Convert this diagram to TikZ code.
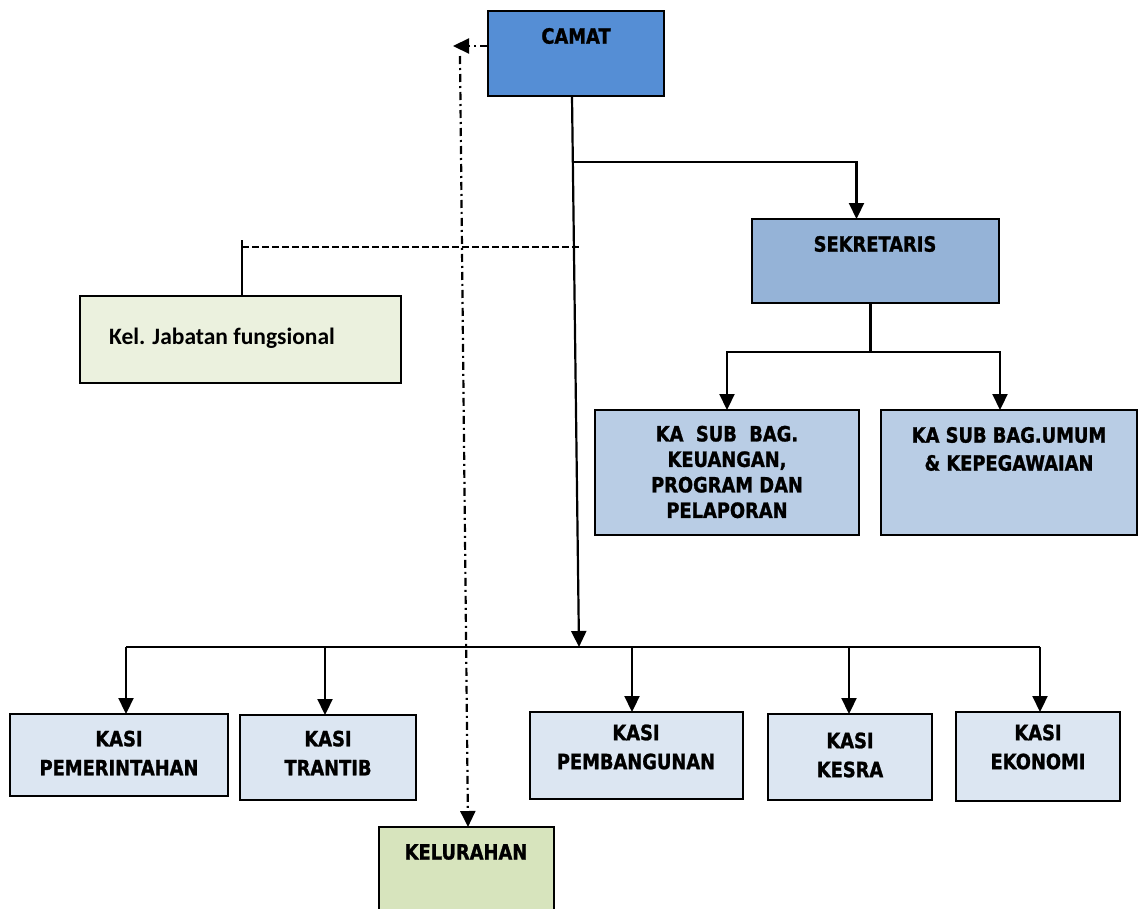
\documentclass[tikz,border=0pt]{standalone}
\usepackage{fontspec}
\setmainfont{DejaVu Sans}[FakeStretch=0.85, BoldFeatures={FakeBold=1.2}]
\newfontfamily\calibri{Carlito}
\usetikzlibrary{arrows.meta,positioning,calc}
\tikzset{>={Triangle[length=16pt,width=15pt]}}

\definecolor{camatbiru}{HTML}{558ED5}
\definecolor{sekbiru}{HTML}{95B3D7}
\definecolor{subbiru}{HTML}{B9CDE5}
\definecolor{kasibiru}{HTML}{DCE6F2}
\definecolor{jabhijau}{HTML}{EBF1DE}
\definecolor{kelhijau}{HTML}{D7E4BD}

\begin{document}
\begin{tikzpicture}[x=1pt,y=-1pt,
    kotak/.style={draw, line width=2.2pt, anchor=north west, inner sep=0pt, outer sep=0pt},
    teks/.style={font=\bfseries\fontsize{21}{29}\selectfont, align=center},
    garis/.style={line width=2.2pt},
    panah/.style={garis,->},
    titik/.style={garis, dash pattern=on 8pt off 4pt on 2pt off 4pt},
    putus/.style={garis, dash pattern=on 7pt off 3pt}]
    \useasboundingbox (0,0) rectangle (1138,908);
    % kotak-kotak
    \node[kotak, fill=camatbiru, minimum width=176pt, minimum height=85pt] (camat) at (488,11) {};
    \node[kotak, fill=sekbiru, minimum width=247pt, minimum height=84pt] (sekretaris) at (752,219) {};
    \node[kotak, fill=subbiru, minimum width=264pt, minimum height=125pt] (keuangan) at (595,410) {};
    \node[kotak, fill=subbiru, minimum width=256pt, minimum height=125pt] (umum) at (881,410) {};
    \node[kotak, fill=jabhijau, minimum width=321pt, minimum height=87pt] (jabatan) at (80,296) {};
    \node[kotak, fill=kasibiru, minimum width=218pt, minimum height=82pt] (pemerintahan) at (10,714) {};
    \node[kotak, fill=kasibiru, minimum width=176pt, minimum height=85pt] (trantib) at (240,715) {};
    \node[kotak, fill=kasibiru, minimum width=213pt, minimum height=87pt] (pembangunan) at (530,712) {};
    \node[kotak, fill=kasibiru, minimum width=164pt, minimum height=86pt] (kesra) at (768,714) {};
    \node[kotak, fill=kasibiru, minimum width=164pt, minimum height=89pt] (ekonomi) at (956,712) {};
    \node[kotak, fill=kelhijau, minimum width=175pt, minimum height=95pt] (kelurahan) at (379,827) {};
    % teks
    \node[teks] (tcamat) at (576,36) {CAMAT};
    \node[teks] (tsekretaris) at (875,244) {SEKRETARIS};
    \node[teks, font=\bfseries\fontsize{21}{25.5}\selectfont] (tkeuangan) at (727,472) {KA\ \ SUB\ \ BAG.\\KEUANGAN,\\PROGRAM DAN\\PELAPORAN};
    \node[teks, font=\bfseries\fontsize{21}{28}\selectfont] (tumum) at (1009,449) {KA SUB BAG.UMUM\\\& KEPEGAWAIAN};
    \node[font=\calibri\bfseries\fontsize{23.5}{26}\selectfont] (tjabatan) at (222,338) {Kel. Jabatan fungsional};
    \node[teks] (tpemerintahan) at (119,753) {KASI\\PEMERINTAHAN};
    \node[teks] (ttrantib) at (328,753) {KASI\\TRANTIB};
    \node[teks] (tpembangunan) at (636,747) {KASI\\PEMBANGUNAN};
    \node[teks] (tkesra) at (850,755) {KASI\\KESRA};
    \node[teks] (tekonomi) at (1038,747) {KASI\\EKONOMI};
    \node[teks] (tkelurahan) at (466,852) {KELURAHAN};
    % garis komando
    \coordinate (tengah) at (579,647);
    \draw[panah] ([xshift=-4pt]camat.south) -- (tengah);
    \draw[panah] (573,162) -| ([xshift=-19pt]sekretaris.north);
    \draw[garis] ([xshift=-5pt]sekretaris.south) -- ++(0,49) coordinate (cabang);
    \draw[panah] (cabang) -| (keuangan.north);
    \draw[panah] (cabang) -| ([xshift=-9pt]umum.north);
    \draw[garis] (126,647) -- (1040,647);
    \foreach \k/\x in {pemerintahan/126, trantib/325, pembangunan/632, kesra/849, ekonomi/1040}
        \draw[panah] (\x,647) -- (\k.north -| \x,0);
    % fungsional
    \draw[garis] (jabatan.north -| 242,0) -- (242,240);
    \draw[putus] (242,247) -- (580,247);
    % koordinasi
    \draw[titik,->] (camat.west |- 0,46) -- (453,46);
    \draw[titik,->] (460,56) -- (kelurahan.north -| 468,0);
\end{tikzpicture}
\end{document}
